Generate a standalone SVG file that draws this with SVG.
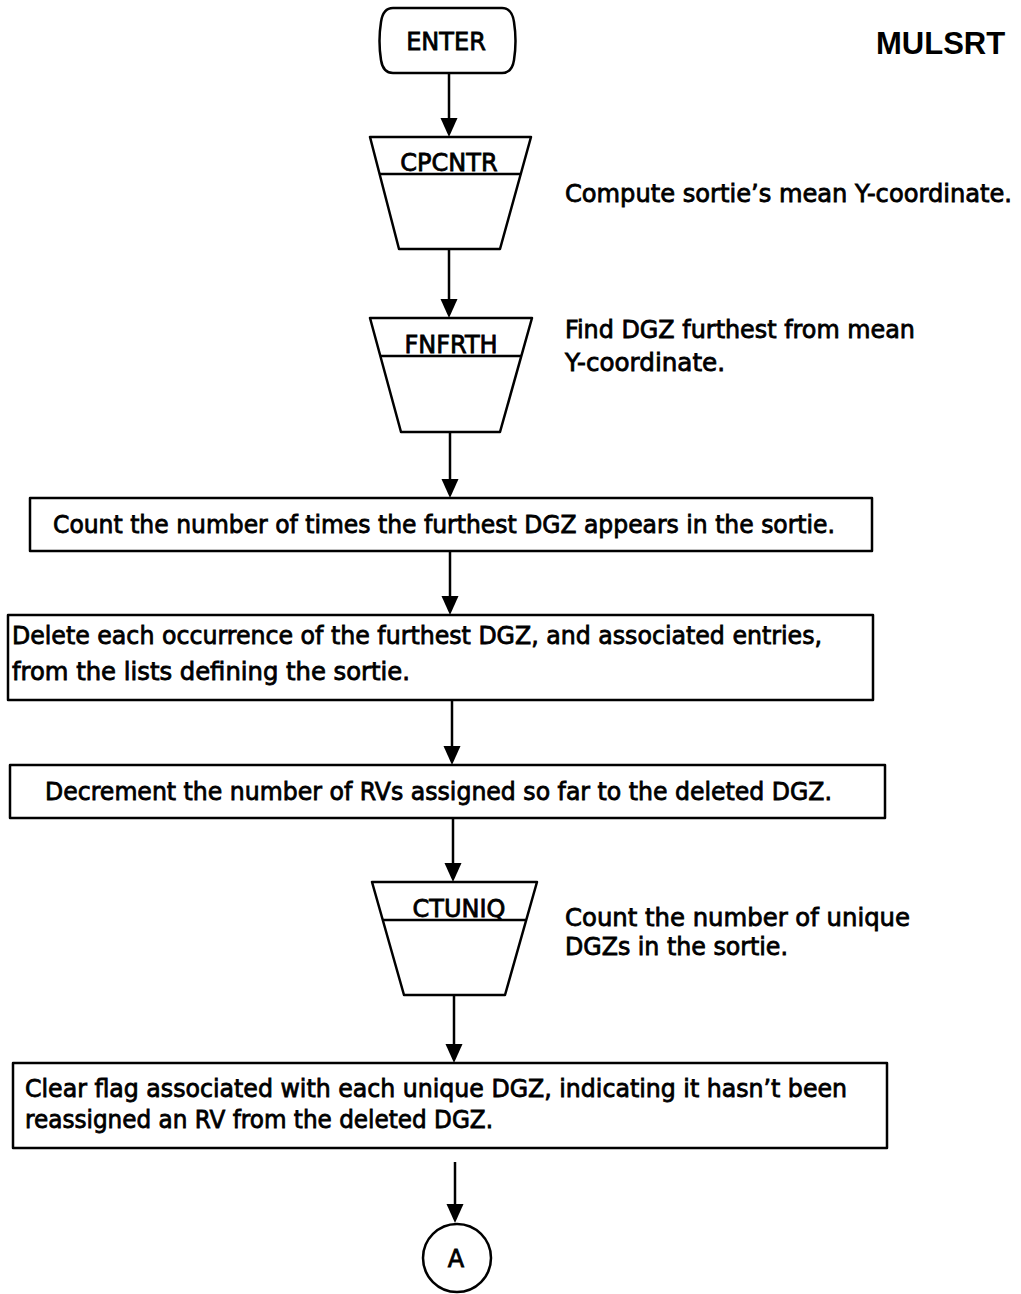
<svg xmlns="http://www.w3.org/2000/svg" width="1021" height="1294" viewBox="0 0 1021 1294">
  <style>
    .shape { fill: #fff; stroke: #000; stroke-width: 2.5; stroke-linejoin: round; }
    .div { fill: none; stroke: #000; stroke-width: 2.5; }
    .conn { fill: none; stroke: #000; stroke-width: 2.5; }
    .t { font-family: "DejaVu Sans", "Liberation Sans", sans-serif; font-size: 24px; fill: #000; stroke: #000; stroke-width: 0.8; }
    .title { font-family: "Liberation Sans", Arial, sans-serif; font-size: 31px; font-weight: bold; fill: #000; }
    .mid { text-anchor: middle; }
  </style>
  <rect width="1021" height="1294" fill="#fff"/>

  <text class="title" x="876" y="54">MULSRT</text>

  <!-- connectors -->
  <g id="connectors">
    <path class="conn" d="M449 74 V130"/>
    <path class="conn" d="M449 249 V312"/>
    <path class="conn" d="M450 432 V492"/>
    <path class="conn" d="M450 551 V609"/>
    <path class="conn" d="M452 700 V759"/>
    <path class="conn" d="M453 818 V876"/>
    <path class="conn" d="M454 995 V1057"/>
    <path class="conn" d="M455 1162 V1217"/>
    <!-- arrowheads -->
    <g fill="#000">
      <path d="M440.5 118 L457.5 118 L449 137 Z"/>
      <path d="M440.5 299 L457.5 299 L449 318 Z"/>
      <path d="M441.5 479 L458.5 479 L450 498 Z"/>
      <path d="M441.5 596 L458.5 596 L450 615 Z"/>
      <path d="M443.5 746 L460.5 746 L452 765 Z"/>
      <path d="M444.5 863 L461.5 863 L453 882 Z"/>
      <path d="M445.5 1044 L462.5 1044 L454 1063 Z"/>
      <path d="M446.5 1204 L463.5 1204 L455 1223 Z"/>
    </g>
  </g>

  <!-- terminal: ENTER -->
  <g id="enter">
    <path class="shape" d="M393 8 L502 8 Q512 8 514 22 Q517 41 514 60 Q512 73 502 73 L393 73 Q383 73 381 60 Q378 41 381 22 Q383 8 393 8 Z"/>
    <text class="t mid" x="446" y="50">ENTER</text>
  </g>

  <!-- module call: CPCNTR -->
  <g id="cpcntr">
    <path class="shape" d="M370 137 L531 137 L500 249 L399 249 Z"/>
    <line class="div" x1="380" y1="174" x2="521" y2="174"/>
    <text class="t mid" x="449" y="171">CPCNTR</text>
    <text class="t" x="565" y="202" textLength="447" lengthAdjust="spacingAndGlyphs">Compute sortie’s mean Y-coordinate.</text>
  </g>

  <!-- module call: FNFRTH -->
  <g id="fnfrth">
    <path class="shape" d="M370 318 L532 318 L500 432 L401 432 Z"/>
    <line class="div" x1="381" y1="356" x2="521" y2="356"/>
    <text class="t mid" x="451" y="353">FNFRTH</text>
    <text class="t" x="565" y="338" textLength="350" lengthAdjust="spacingAndGlyphs">Find DGZ furthest from mean</text>
    <text class="t" x="565" y="371" textLength="160" lengthAdjust="spacingAndGlyphs">Y-coordinate.</text>
  </g>

  <!-- step: count occurrences -->
  <g id="count-furthest">
    <rect class="shape" x="30" y="498" width="842" height="53"/>
    <text class="t" x="53" y="533" textLength="782" lengthAdjust="spacingAndGlyphs">Count the number of times the furthest DGZ appears in the sortie.</text>
  </g>

  <!-- step: delete occurrences -->
  <g id="delete-furthest">
    <rect class="shape" x="8" y="615" width="865" height="85"/>
    <text class="t" x="12" y="644" textLength="810" lengthAdjust="spacingAndGlyphs">Delete each occurrence of the furthest DGZ, and associated entries,</text>
    <text class="t" x="12" y="680" textLength="398" lengthAdjust="spacingAndGlyphs">from the lists defining the sortie.</text>
  </g>

  <!-- step: decrement RV count -->
  <g id="decrement">
    <rect class="shape" x="10" y="765" width="875" height="53"/>
    <text class="t" x="45" y="800" textLength="787" lengthAdjust="spacingAndGlyphs">Decrement the number of RVs assigned so far to the deleted DGZ.</text>
  </g>

  <!-- module call: CTUNIQ -->
  <g id="ctuniq">
    <path class="shape" d="M372 882 L537 882 L505 995 L404 995 Z"/>
    <line class="div" x1="382" y1="920" x2="526" y2="920"/>
    <text class="t mid" x="459" y="917">CTUNIQ</text>
    <text class="t" x="565" y="926" textLength="345" lengthAdjust="spacingAndGlyphs">Count the number of unique</text>
    <text class="t" x="565" y="955" textLength="223" lengthAdjust="spacingAndGlyphs">DGZs in the sortie.</text>
  </g>

  <!-- step: clear flags -->
  <g id="clear-flags">
    <rect class="shape" x="13" y="1063" width="874" height="85"/>
    <text class="t" x="25" y="1097" textLength="822" lengthAdjust="spacingAndGlyphs">Clear flag associated with each unique DGZ, indicating it hasn’t been</text>
    <text class="t" x="25" y="1128" textLength="468" lengthAdjust="spacingAndGlyphs">reassigned an RV from the deleted DGZ.</text>
  </g>

  <!-- off-page connector A -->
  <g id="connector-a">
    <circle class="shape" cx="457" cy="1258" r="34"/>
    <text class="t mid" x="456" y="1267">A</text>
  </g>
</svg>
